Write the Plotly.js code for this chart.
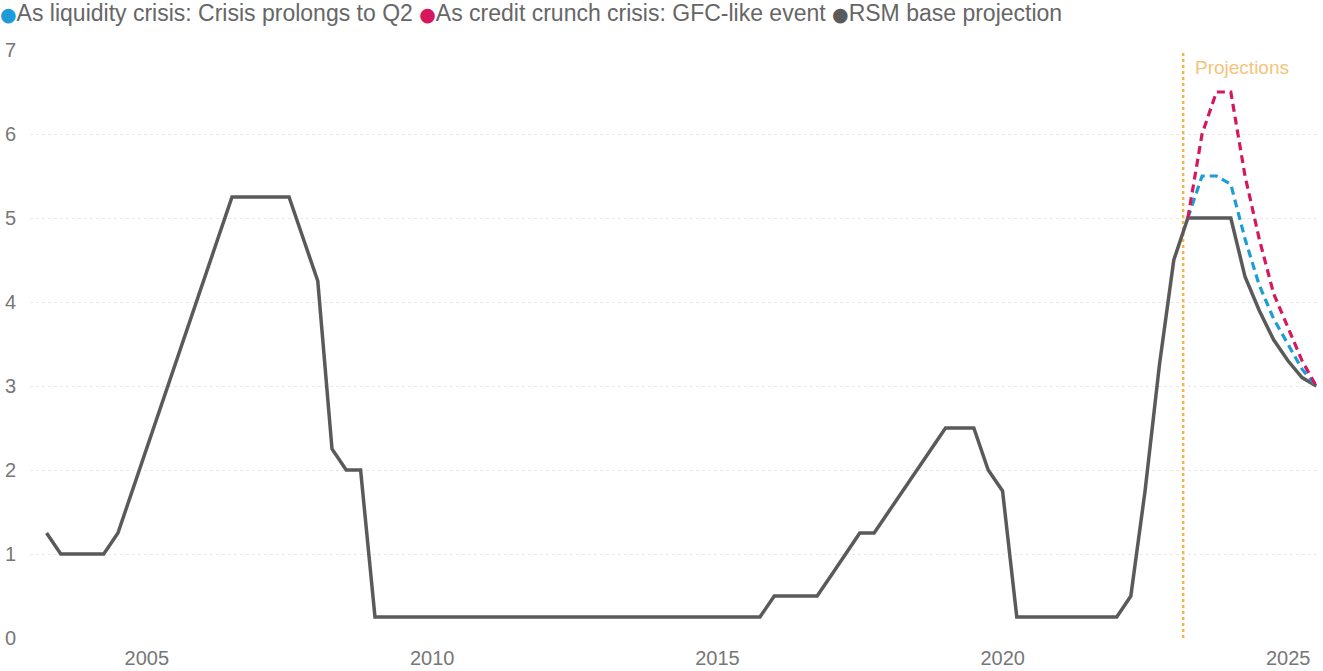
<!DOCTYPE html>
<html>
<head>
<meta charset="utf-8">
<script src="https://cdn.plot.ly/plotly-3.0.1.min.js"></script>
<style>
  html, body { margin: 0; padding: 0; background: #ffffff; }
  #chart { width: 1323px; height: 671px; }
</style>
</head>
<body>
<div id="chart"></div>
<script>
// Quarter-end dates, Q1 2003 through Q2 2025
const quarters = [
  "2003-03-31","2003-06-30","2003-09-30","2003-12-31",
  "2004-03-31","2004-06-30","2004-09-30","2004-12-31",
  "2005-03-31","2005-06-30","2005-09-30","2005-12-31",
  "2006-03-31","2006-06-30","2006-09-30","2006-12-31",
  "2007-03-31","2007-06-30","2007-09-30","2007-12-31",
  "2008-03-31","2008-06-30","2008-09-30","2008-12-31",
  "2009-03-31","2009-06-30","2009-09-30","2009-12-31",
  "2010-03-31","2010-06-30","2010-09-30","2010-12-31",
  "2011-03-31","2011-06-30","2011-09-30","2011-12-31",
  "2012-03-31","2012-06-30","2012-09-30","2012-12-31",
  "2013-03-31","2013-06-30","2013-09-30","2013-12-31",
  "2014-03-31","2014-06-30","2014-09-30","2014-12-31",
  "2015-03-31","2015-06-30","2015-09-30","2015-12-31",
  "2016-03-31","2016-06-30","2016-09-30","2016-12-31",
  "2017-03-31","2017-06-30","2017-09-30","2017-12-31",
  "2018-03-31","2018-06-30","2018-09-30","2018-12-31",
  "2019-03-31","2019-06-30","2019-09-30","2019-12-31",
  "2020-03-31","2020-06-30","2020-09-30","2020-12-31",
  "2021-03-31","2021-06-30","2021-09-30","2021-12-31",
  "2022-03-31","2022-06-30","2022-09-30","2022-12-31",
  "2023-03-31","2023-06-30","2023-09-30","2023-12-31",
  "2024-03-31","2024-06-30","2024-09-30","2024-12-31",
  "2025-03-31","2025-06-30"
];

// Federal funds rate (upper bound, %) with the base projection from Q2 2023
const baseRate = [
  1.25, 1.00, 1.00, 1.00,
  1.00, 1.25, 1.75, 2.25,
  2.75, 3.25, 3.75, 4.25,
  4.75, 5.25, 5.25, 5.25,
  5.25, 5.25, 4.75, 4.25,
  2.25, 2.00, 2.00, 0.25,
  0.25, 0.25, 0.25, 0.25,
  0.25, 0.25, 0.25, 0.25,
  0.25, 0.25, 0.25, 0.25,
  0.25, 0.25, 0.25, 0.25,
  0.25, 0.25, 0.25, 0.25,
  0.25, 0.25, 0.25, 0.25,
  0.25, 0.25, 0.25, 0.50,
  0.50, 0.50, 0.50, 0.75,
  1.00, 1.25, 1.25, 1.50,
  1.75, 2.00, 2.25, 2.50,
  2.50, 2.50, 2.00, 1.75,
  0.25, 0.25, 0.25, 0.25,
  0.25, 0.25, 0.25, 0.25,
  0.50, 1.75, 3.25, 4.50,
  5.00, 5.00, 5.00, 5.00,
  4.30, 3.90, 3.55, 3.30,
  3.10, 3.00
];

// Scenario paths, Q1 2023 through Q2 2025
const scenarioQuarters = [
  "2023-03-31","2023-06-30","2023-09-30","2023-12-31",
  "2024-03-31","2024-06-30","2024-09-30","2024-12-31",
  "2025-03-31","2025-06-30"
];
const liquidityCrisis = [5.00, 5.50, 5.50, 5.40, 4.75, 4.20, 3.80, 3.50, 3.20, 3.00];
const creditCrunch    = [5.00, 6.00, 6.50, 6.50, 5.50, 4.75, 4.10, 3.70, 3.30, 3.00];

const seriesNames = [
  "As liquidity crisis: Crisis prolongs to Q2",
  "As credit crunch crisis: GFC-like event",
  "RSM base projection"
];
const seriesColors = ["#1c9cd8", "#d6175d", "#5a5a5a"];

const projectionStart = "2023-03-01";
const projectionLabel = "Projections";

const yTicks = [0, 1, 2, 3, 4, 5, 6, 7];

const FONT = "Liberation Sans, Arial, sans-serif";

const traces = [
  {
    x: quarters, y: baseRate, name: seriesNames[2], type: "scatter", mode: "lines",
    line: { color: seriesColors[2], width: 3.5 }
  },
  {
    x: scenarioQuarters, y: liquidityCrisis, name: seriesNames[0], type: "scatter", mode: "lines",
    line: { color: seriesColors[0], width: 3.2, dash: "8px,5px" }
  },
  {
    x: scenarioQuarters, y: creditCrunch, name: seriesNames[1], type: "scatter", mode: "lines",
    line: { color: seriesColors[1], width: 3.2, dash: "8px,5px" }
  }
];

// Legend row: a coloured dot before each series name
const legendText = seriesNames.map((n, i) =>
  `<span style="color:${seriesColors[i]};font-family:'DejaVu Sans';font-size:19px">●</span>${n}`
).join(" ");

const layout = {
  width: 1323, height: 671,
  margin: { l: 30, r: 5, t: 50, b: 33 },
  paper_bgcolor: "#ffffff", plot_bgcolor: "#ffffff",
  showlegend: false,
  font: { family: FONT, color: "#777777", size: 20 },
  xaxis: {
    type: "date",
    range: ["2002-12-15", "2025-07-11"],
    tick0: "2005-01-01", dtick: "M60", tickformat: "%Y",
    showgrid: false, zeroline: false, showline: false, ticks: "",
    tickfont: { family: FONT, size: 20, color: "#777777" },
    ticklabelstandoff: 6
  },
  yaxis: {
    range: [0, 7], tickvals: yTicks, ticktext: yTicks.map(String),
    showgrid: true, gridcolor: "#e8e8e8", gridwidth: 1, griddash: "dot",
    zeroline: false, showline: false, ticks: "",
    tickfont: { family: FONT, size: 20, color: "#777777" },
    ticklabelstandoff: 13
  },
  shapes: [{
    type: "line", xref: "x", yref: "y",
    x0: projectionStart, x1: projectionStart, y0: 0, y1: 7,
    line: { color: "#f0b846", width: 2.5, dash: "dot" }, layer: "below"
  }],
  annotations: [
    {
      xref: "x", yref: "y", x: projectionStart, y: 6.79,
      xanchor: "left", yanchor: "middle", xshift: 10,
      text: projectionLabel, showarrow: false,
      font: { family: FONT, size: 19, color: "#f3c47c" }
    },
    {
      xref: "paper", yref: "paper", x: 0, y: 1 + 37 / 588,
      xanchor: "left", yanchor: "middle", xshift: -32,
      text: legendText, showarrow: false,
      font: { family: FONT, size: 23, color: "#666666" }
    }
  ]
};

Plotly.newPlot("chart", traces, layout, { displayModeBar: false, staticPlot: true });
</script>
</body>
</html>
